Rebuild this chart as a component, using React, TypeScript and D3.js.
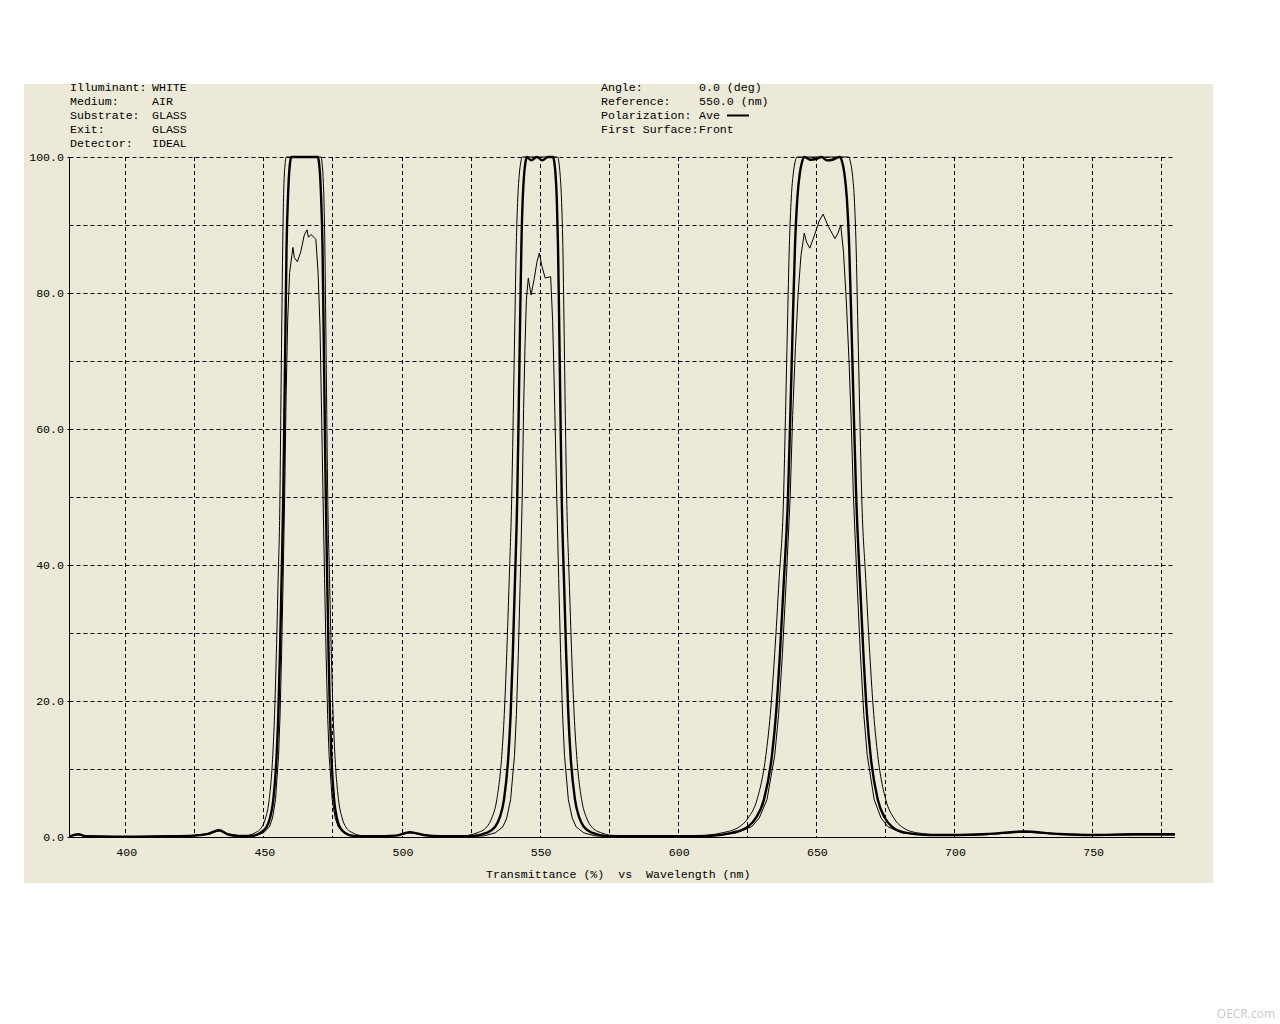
import React from "react";
import * as d3 from "d3";

const headerLeftLabels = ["Illuminant:", "Medium:", "Substrate:", "Exit:", "Detector:"];
const headerLeftValues = ["WHITE", "AIR", "GLASS", "GLASS", "IDEAL"];
const headerRightLabels = ["Angle:", "Reference:", "Polarization:", "First Surface:"];
const headerRightValues = ["0.0 (deg)", "550.0 (nm)", "Ave", "Front"];
const xTickValues = [400, 450, 500, 550, 600, 650, 700, 750];
const xGridValues = [400, 425, 450, 475, 500, 525, 550, 575, 600, 625, 650, 675, 700, 725, 750, 775];
const yGridValues = [10, 20, 30, 40, 50, 60, 70, 80, 90, 100];
const yLabelValues = [0, 20, 40, 60, 80, 100];
const axisTitle = "Transmittance (%)  vs  Wavelength (nm)";

// wide (outer) thin curve: [wavelength nm, transmittance %]
const curveWide: [number, number][] = [
  [380, 0.1], [383, 0.35], [386, 0.1], [400, 0.05], [415, 0.1], [425, 0.2], [430, 0.4], [434, 0.9], [438, 0.3],
  [443.0, 0.15], [446.9, 0.6], [449.5, 1.5], [450.8, 2.8], [452.1, 5.5], [453.4, 12], [454.05, 18], [454.7, 27], [455.35, 38], [456.0, 50],
  [456.3, 62], [456.65, 75], [457.0, 87], [457.3, 94], [457.6, 97.5], [457.95, 99.3], [458.3, 100], [464, 100], [470.85, 100],
  [471.2, 99.3], [471.55, 97.5], [471.9, 94], [472.25, 87], [472.6, 75], [472.95, 62], [473.3, 50], [473.95, 38], [474.6, 27],
  [475.25, 18], [475.9, 12], [477.2, 5.5], [478.5, 2.8], [479.8, 1.5], [482.4, 0.6], [486.3, 0.15],
  [492, 0.1], [498, 0.2], [503, 0.6], [508, 0.25], [514, 0.1],
  [521.9, 0.15], [527.3, 0.6], [530.9, 1.5], [532.7, 2.8], [534.5, 5.5], [536.3, 12], [537.2, 18], [538.1, 27], [539.0, 38], [539.9, 50],
  [540.45, 62], [541.0, 75], [541.55, 87], [542.1, 94], [542.65, 97.5], [543.2, 99.3], [543.75, 100], [550, 100], [556.5, 100],
  [556.95, 99.3], [557.4, 97.5], [557.9, 94], [558.4, 87], [558.85, 75], [559.3, 62], [559.8, 50], [560.7, 38], [561.6, 27],
  [562.5, 18], [563.4, 12], [565.2, 5.5], [567.0, 2.8], [568.8, 1.5], [572.4, 0.6], [577.8, 0.15],
  [590, 0.1], [600, 0.1],
  [606.3, 0.15], [615.9, 0.6], [622.3, 1.5], [625.5, 2.8], [628.7, 5.5], [631.9, 12], [633.5, 18], [635.1, 27], [636.7, 38], [638.3, 50],
  [639.0, 62], [639.7, 75], [640.4, 87], [641.1, 94], [641.8, 97.5], [642.5, 99.3], [643.2, 100], [652, 100], [661.8, 100],
  [662.5, 99.3], [663.2, 97.5], [663.9, 94], [664.55, 87], [665.2, 75], [665.9, 62], [666.6, 50], [668.05, 38], [669.5, 27],
  [670.95, 18], [672.4, 12], [675.3, 5.5], [678.2, 2.8], [681.1, 1.5], [686.9, 0.6], [695.6, 0.3],
  [705, 0.25], [714, 0.4], [725, 0.7], [738, 0.4], [750, 0.25], [765, 0.3], [780, 0.3],
];

// average (thick) curve
const curveAve: [number, number][] = [
  [380, 0.1], [383, 0.4], [386, 0.1], [400, 0.05], [415, 0.1], [425, 0.2], [430, 0.45], [434, 1.0], [437, 0.4], [441, 0.15],
  [445.2, 0.15], [448.8, 0.6], [451.2, 1.5], [452.4, 2.8], [453.6, 5.5], [454.8, 12], [455.4, 18], [456.0, 27], [456.6, 38], [457.2, 50],
  [457.6, 62], [458.0, 75], [458.4, 87], [458.9, 94], [459.3, 97.5], [459.7, 99.3], [460.1, 100], [465, 100], [469.7, 100],
  [470.1, 99.3], [470.5, 97.5], [470.9, 94], [471.4, 87], [471.8, 75], [472.2, 62], [472.6, 50], [473.1, 38], [473.6, 27],
  [474.1, 18], [474.6, 12], [475.6, 5.5], [476.6, 2.8], [477.6, 1.5], [479.6, 0.6], [482.6, 0.15],
  [490, 0.1], [498, 0.2], [503, 0.7], [508, 0.3], [514, 0.1], [520, 0.1],
  [525.9, 0.15], [530.7, 0.6], [533.9, 1.5], [535.5, 2.8], [537.1, 5.5], [538.7, 12], [539.5, 18], [540.3, 27], [541.1, 38], [541.9, 50],
  [542.4, 62], [542.9, 75], [543.4, 87], [543.9, 94], [544.4, 97.5], [544.9, 99.3], [545.4, 100], [547, 99.5], [549, 100], [551, 99.5],
  [553, 100], [554.85, 100], [555.3, 99.3], [555.75, 97.5], [556.2, 94], [556.65, 87], [557.1, 75], [557.55, 62], [558.0, 50],
  [558.8, 38], [559.6, 27], [560.4, 18], [561.2, 12], [562.8, 5.5], [564.4, 2.8], [566.0, 1.5], [569.2, 0.6], [574.0, 0.15],
  [585, 0.1], [600, 0.1],
  [610.9, 0.15], [619.6, 0.6], [625.4, 1.5], [628.3, 2.8], [631.2, 5.5], [634.1, 12], [635.55, 18], [637.0, 27], [638.45, 38], [639.9, 50],
  [640.75, 62], [641.6, 75], [642.45, 87], [643.3, 94], [644.15, 97.5], [645.0, 99.3], [645.85, 100], [648, 99.6], [650, 99.7],
  [652, 100], [654, 99.5], [656, 99.6], [658.65, 100], [659.5, 99.3], [660.35, 97.5], [661.2, 94], [662.05, 87], [662.9, 75],
  [663.75, 62], [664.6, 50], [665.9, 38], [667.2, 27], [668.5, 18], [669.8, 12], [672.4, 5.5], [675.0, 2.8], [677.6, 1.5],
  [682.8, 0.6], [690.6, 0.3],
  [700, 0.3], [712, 0.45], [725, 0.8], [738, 0.45], [750, 0.3], [765, 0.4], [780, 0.4],
];

// narrow thin curve with rippled top
const curveNarrow: [number, number][] = [
  [380, 0.1], [383, 0.35], [386, 0.1], [400, 0.05], [415, 0.1], [425, 0.25], [430, 0.5], [434, 1.1], [437, 0.5], [442, 0.15],
  [446.7, 0.15], [450.0, 0.6], [452.2, 1.5], [453.3, 2.8], [454.4, 5.5], [455.5, 12], [456.05, 18], [456.6, 27], [457.15, 38], [457.7, 50],
  [458.2, 64], [458.8, 76], [459.5, 83], [460.3, 85.5], [460.7, 86.7], [461.2, 85.2], [462.3, 84.6], [463.5, 86], [464.8, 88.5],
  [465.8, 89.3], [466.3, 88.2], [467.2, 88.6], [468.3, 88.2], [469.0, 87.9], [469.8, 83], [470.5, 75], [471.0, 64], [471.6, 50],
  [472.15, 38], [472.7, 27], [473.25, 18], [473.8, 12], [474.9, 5.5], [476.0, 2.8], [477.1, 1.5], [479.3, 0.6], [482.6, 0.15],
  [490, 0.1], [498, 0.2], [503, 0.75], [508, 0.3], [514, 0.1], [522, 0.1],
  [529.7, 0.15], [533.9, 0.6], [536.7, 1.5], [538.1, 2.8], [539.5, 5.5], [540.9, 12], [541.6, 18], [542.3, 27], [543.0, 38], [543.7, 50],
  [544.2, 63], [544.7, 72], [545.2, 79], [545.9, 82.2], [546.9, 79.7], [548.0, 82], [549.0, 84.5], [549.9, 85.9], [550.8, 84],
  [552.0, 82.2], [553.0, 82.3], [554.0, 82.4], [554.7, 76], [555.2, 68], [555.7, 59], [556.2, 50], [556.9, 38], [557.6, 27],
  [558.3, 18], [559.0, 12], [560.4, 5.5], [561.8, 2.8], [563.2, 1.5], [566.0, 0.6], [570.2, 0.15],
  [582, 0.1], [600, 0.1],
  [612.7, 0.15], [621.1, 0.6], [626.7, 1.5], [629.5, 2.8], [632.3, 5.5], [635.1, 12], [636.5, 18], [637.9, 27], [639.3, 38], [640.7, 50],
  [641.6, 62], [642.6, 72], [643.6, 80], [644.6, 85.5], [645.8, 88.8], [646.6, 87.5], [647.8, 86.6], [649.5, 88.5], [651.2, 90.6],
  [652.6, 91.6], [654.5, 89.8], [656.9, 88.0], [658.0, 88.8], [659.0, 90.0], [660.0, 86], [661.0, 79], [662.0, 70], [662.8, 61],
  [663.6, 50], [664.85, 38], [666.1, 27], [667.35, 18], [668.6, 12], [671.1, 5.5], [673.6, 2.8], [676.1, 1.5], [681.1, 0.6], [688.6, 0.3],
  [700, 0.3], [712, 0.45], [725, 0.8], [738, 0.5], [750, 0.3], [765, 0.4], [780, 0.4],
];

const FONT = "'Liberation Mono', 'Courier New', monospace";

export default function App() {
  const x = d3.scaleLinear().domain([380, 780]).range([70, 1175]);
  const y = d3.scaleLinear().domain([0, 100]).range([837, 157]);
  const smooth = d3
    .line<[number, number]>()
    .x((d) => x(d[0]))
    .y((d) => y(d[1]))
    .curve(d3.curveMonotoneX);
  const linear = d3
    .line<[number, number]>()
    .x((d) => x(d[0]))
    .y((d) => y(d[1]))
    .curve(d3.curveLinear);

  const x0 = x(380) - 0.5;
  const x1 = x(780);
  const rowY = (i: number) => 91 + i * 14;

  return (
    <svg
      width={1280}
      height={1024}
      style={{ position: "absolute", left: 0, top: 0, background: "#ffffff" }}
      fontFamily={FONT}
    >
      <rect x={24} y={84} width={1189} height={799} fill="#ECE9D8" />

      {/* header */}
      <g fontSize={11.6} fill="#000">
        {headerLeftLabels.map((t, i) => (
          <text key={"ll" + i} x={70} y={rowY(i)}>{t}</text>
        ))}
        {headerLeftValues.map((t, i) => (
          <text key={"lv" + i} x={152} y={rowY(i)}>{t}</text>
        ))}
        {headerRightLabels.map((t, i) => (
          <text key={"rl" + i} x={601} y={rowY(i)}>{t}</text>
        ))}
        {headerRightValues.map((t, i) => (
          <text key={"rv" + i} x={699} y={rowY(i)} style={{ whiteSpace: "pre" }}>{t}</text>
        ))}
      </g>
      <line x1={727} x2={749} y1={115.5} y2={115.5} stroke="#000" strokeWidth={2} />

      {/* grid */}
      <g stroke="#000" strokeWidth={1} strokeDasharray="4,3" fill="none">
        {yGridValues.map((v) => (
          <line key={"gy" + v} x1={x0} x2={x1} y1={Math.round(y(v)) + 0.5} y2={Math.round(y(v)) + 0.5} />
        ))}
        {xGridValues.map((v) => (
          <line key={"gx" + v} x1={Math.round(x(v)) + 0.5} x2={Math.round(x(v)) + 0.5} y1={y(100)} y2={y(0)} />
        ))}
      </g>

      {/* axes */}
      <g stroke="#000" strokeWidth={1}>
        <line x1={x0} x2={x0} y1={y(100) + 0.5} y2={y(0) + 0.5} />
        <line x1={x0} x2={x1} y1={y(0) + 0.5} y2={y(0) + 0.5} />
        {yLabelValues.map((v) => (
          <line key={"ty" + v} x1={x0 - 2} x2={x0} y1={Math.round(y(v)) + 0.5} y2={Math.round(y(v)) + 0.5} />
        ))}
      </g>

      <g fontSize={11.6} fill="#000">
        {yLabelValues.map((v) => (
          <text key={"ly" + v} x={64} y={y(v) + 4} textAnchor="end">{v.toFixed(1)}</text>
        ))}
        {xTickValues.map((v) => (
          <text key={"lx" + v} x={x(v) + 1.5} y={856} textAnchor="middle">{v}</text>
        ))}
        <text x={486} y={878} style={{ whiteSpace: "pre" }}>{axisTitle}</text>
      </g>

      {/* curves */}
      <g fill="none" stroke="#000" strokeLinejoin="round">
        <path d={smooth(curveWide) || ""} strokeWidth={1} />
        <path d={linear(curveNarrow) || ""} strokeWidth={1} />
        <path d={smooth(curveAve) || ""} strokeWidth={2.4} />
      </g>

      <text x={1275} y={1018} textAnchor="end" fontFamily="'Open Sans', Arial, sans-serif" fontSize={12} fill="#c8c8c8">
        OECR.com
      </text>
    </svg>
  );
}
